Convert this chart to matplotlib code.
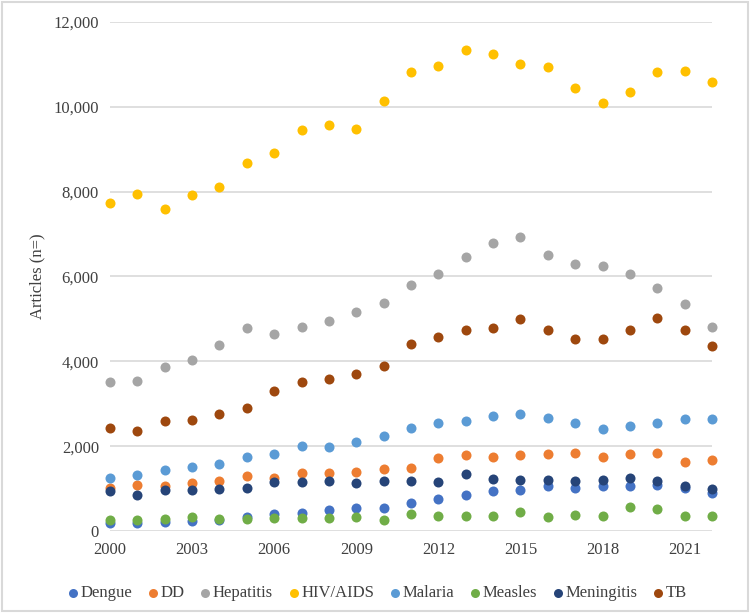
import matplotlib
matplotlib.use("Agg")
import matplotlib.pyplot as plt
from matplotlib.ticker import FuncFormatter

# Data (articles per year)
years = list(range(2000, 2023))

dengue = [196, 181, 204, 243, 259, 338, 401, 416, 487, 550, 550, 668,
          746, 849, 935, 966, 1061, 1006, 1053, 1053, 1092, 1021, 896]
dd = [1021, 1077, 1061, 1131, 1186, 1296, 1242, 1374, 1360, 1398, 1469, 1492,
      1721, 1784, 1737, 1784, 1808, 1831, 1737, 1808, 1831, 1626, 1666]
hepatitis = [3501, 3525, 3855, 4020, 4389, 4790, 4648, 4806, 4939, 5159, 5371, 5811,
             6063, 6460, 6794, 6921, 6511, 6291, 6251, 6055, 5725, 5348, 4806]
hiv = [7732, 7945, 7591, 7921, 8110, 8669, 8921, 9465, 9567, 9472, 10142, 10813,
       10954, 11332, 11252, 11001, 10938, 10449, 10080, 10354, 10813, 10836, 10583]
malaria = [1256, 1312, 1430, 1508, 1587, 1736, 1815, 2010, 1987, 2098, 2246, 2428,
           2538, 2593, 2703, 2765, 2656, 2553, 2404, 2475, 2538, 2640, 2640]
measles = [259, 259, 283, 322, 275, 283, 298, 298, 298, 330, 259, 393,
           346, 361, 346, 448, 330, 369, 346, 574, 519, 361, 361]
meningitis = [943, 841, 966, 966, 997, 1013, 1162, 1162, 1178, 1139, 1178, 1178,
              1162, 1343, 1225, 1210, 1210, 1186, 1210, 1242, 1186, 1068, 983]
tb = [2424, 2362, 2589, 2605, 2755, 2896, 3289, 3501, 3587, 3705, 3894, 4397,
      4562, 4750, 4790, 5002, 4727, 4538, 4538, 4727, 5025, 4735, 4357]

names = ["Dengue", "DD", "Hepatitis", "HIV/AIDS", "Malaria", "Measles", "Meningitis", "TB"]
series = [dengue, dd, hepatitis, hiv, malaria, measles, meningitis, tb]
colors = ["#4472C4", "#ED7D31", "#A5A5A5", "#FFC000", "#5B9BD5", "#70AD47", "#264478", "#9E480E"]

xticks = [2000, 2003, 2006, 2009, 2012, 2015, 2018, 2021]
yticks = [0, 2000, 4000, 6000, 8000, 10000, 12000]

plt.rcParams['font.family'] = ['Liberation Serif', 'DejaVu Serif']

fig = plt.figure(figsize=(7.5, 6.13), dpi=100)
ax = fig.add_axes([0.1467, 0.1338, 0.8026, 0.8303])

# chart border like the Excel chart area
fig.patches.append(plt.Rectangle((0.003, 0.003), 0.994, 0.994, transform=fig.transFigure,
                                 fill=False, edgecolor="#d9d9d9", linewidth=1.5))

for name, vals, col in zip(names, series, colors):
    ax.scatter(years, vals, s=52, color=col, label=name, clip_on=False, zorder=3, linewidths=0)

ax.set_xlim(2000, 2022)
ax.set_ylim(0, 12000)
ax.set_xticks(xticks)
ax.set_yticks(yticks)
ax.yaxis.set_major_formatter(FuncFormatter(lambda v, p: f"{int(v):,}"))
ax.grid(axis='y', color="#d9d9d9", linewidth=1.2)
ax.set_axisbelow(True)
for s in ax.spines.values():
    s.set_visible(False)
ax.tick_params(length=0, labelsize=12, colors="#404040", pad=8)
ax.set_ylabel("Articles (n=)", fontsize=12, color="#404040", labelpad=6)

ax.legend(loc='center', bbox_to_anchor=(0.445, -0.122), ncol=8, frameon=False, fontsize=12,
          handlelength=0.5, handletextpad=0.2, columnspacing=1.0, markerscale=0.9,
          borderaxespad=0, labelcolor="#404040")

fig.savefig("out.png", dpi=100)
